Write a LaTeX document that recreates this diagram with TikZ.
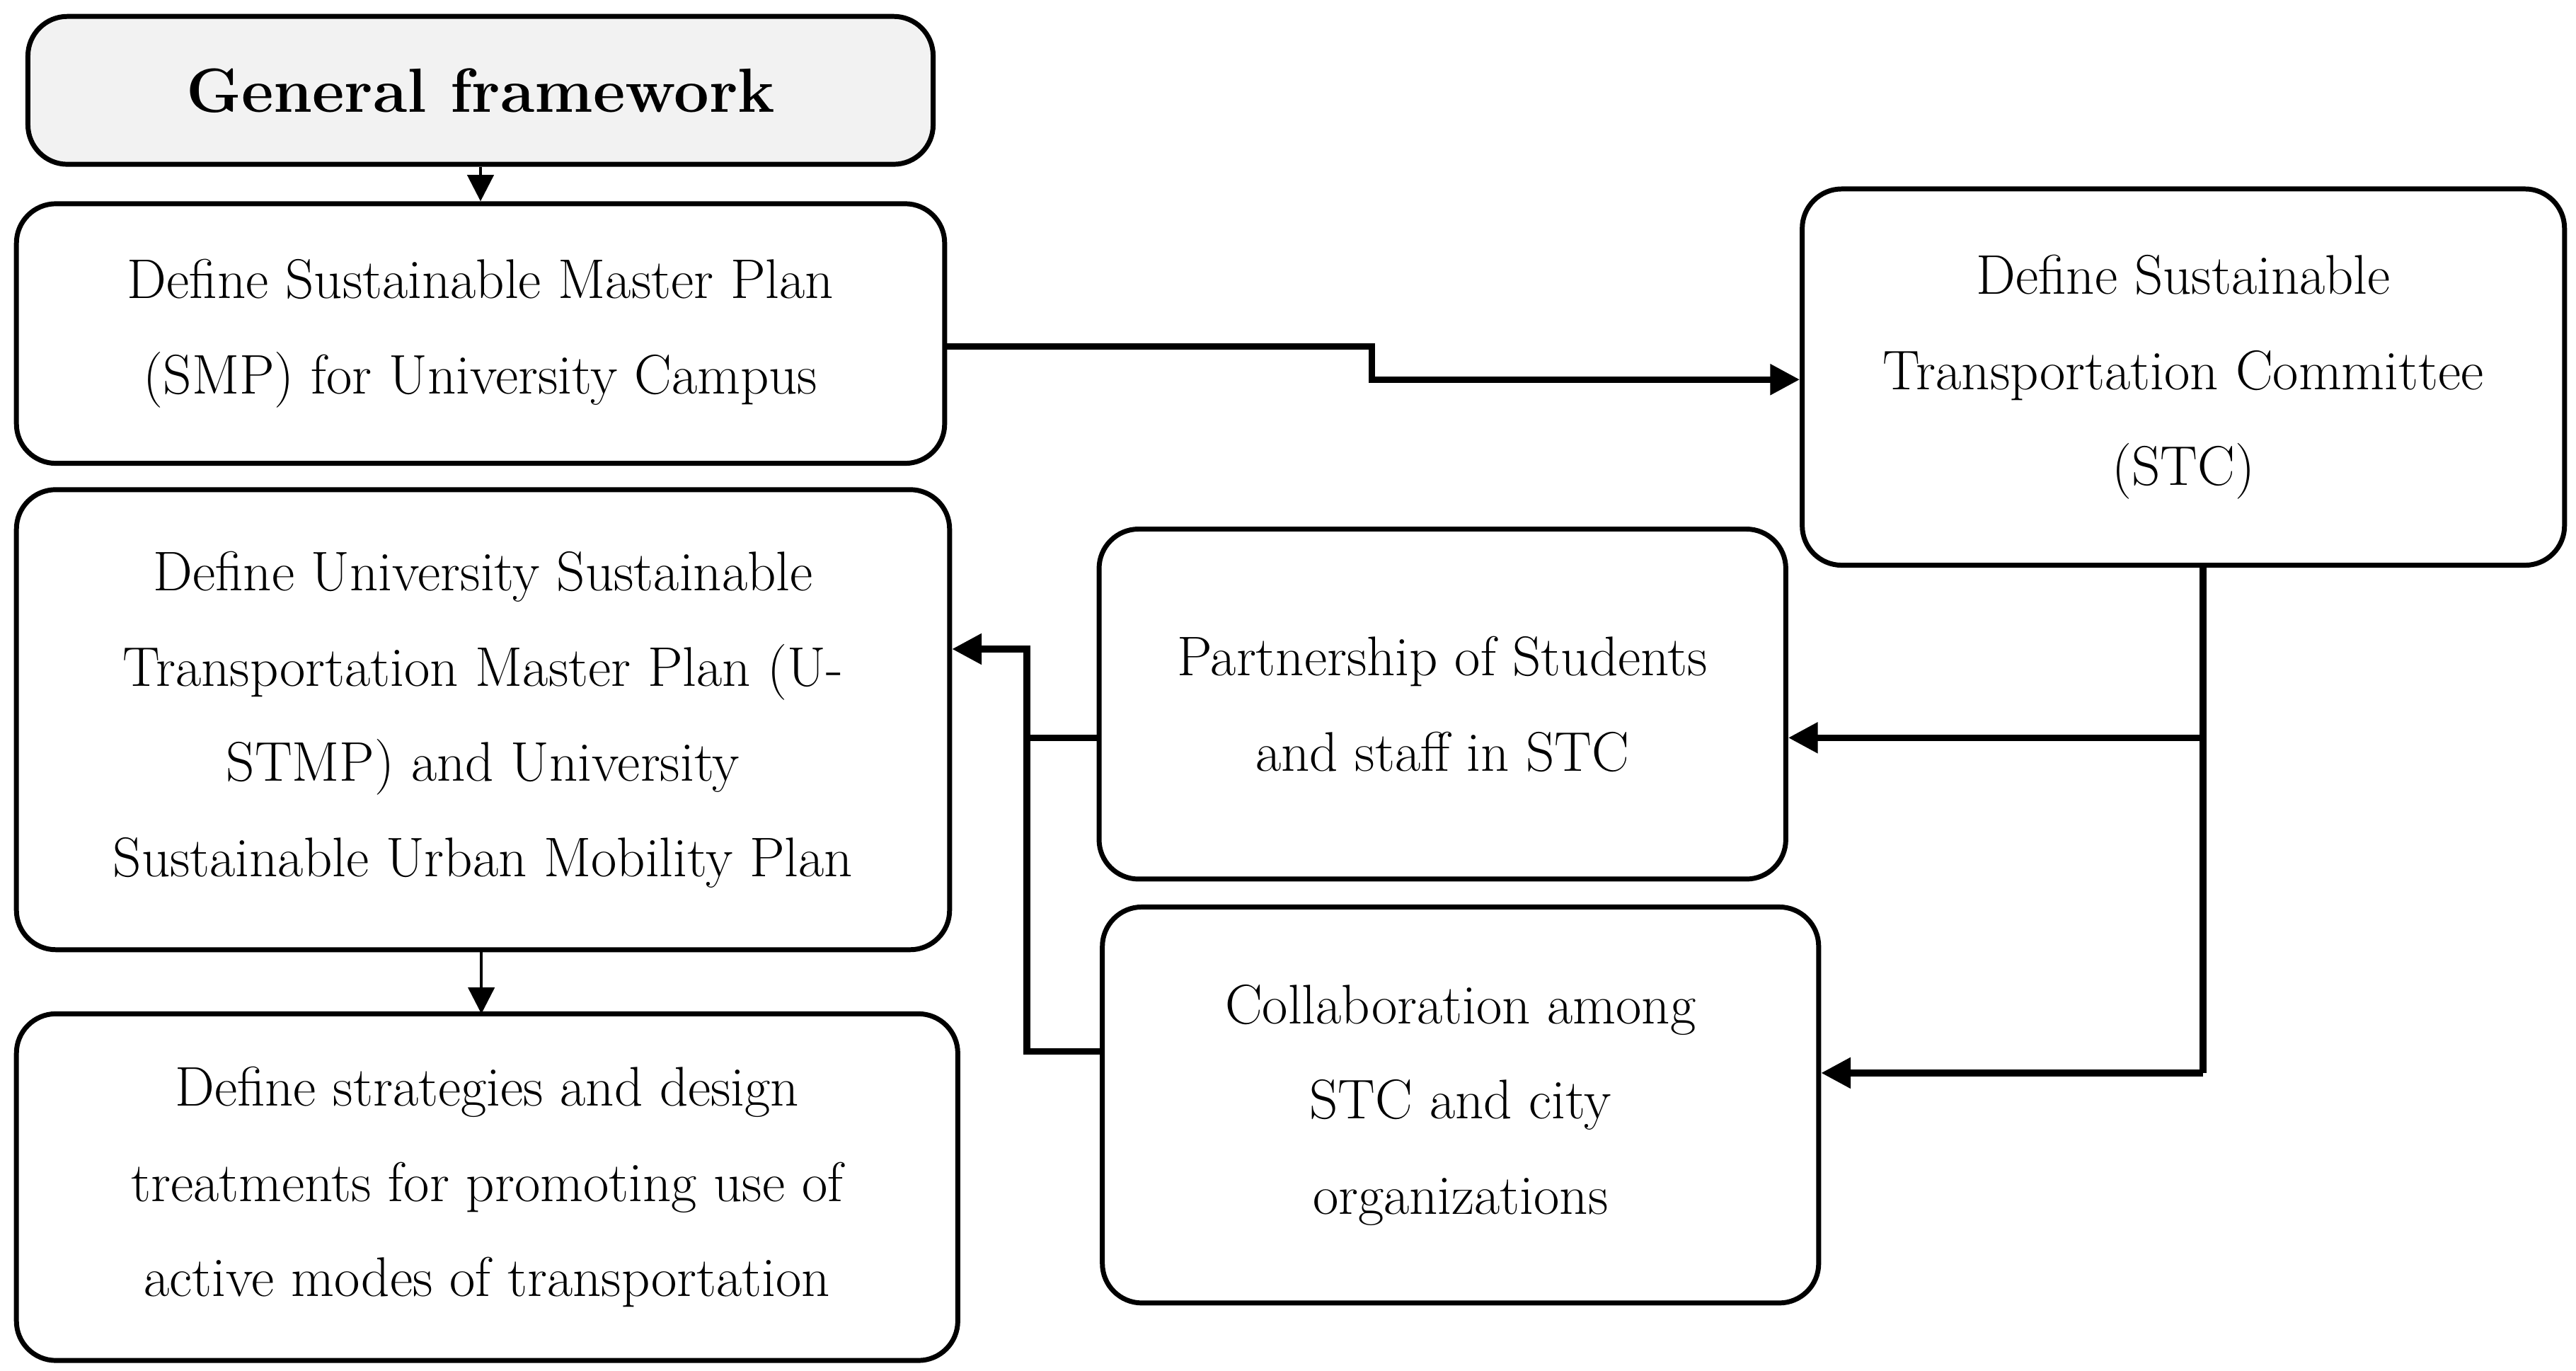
\documentclass[tikz,border=0pt]{standalone}
\usetikzlibrary{arrows.meta}
\begin{document}
\begin{tikzpicture}[x=0.5pt,y=-0.5pt,
 box/.style={draw,line width=1.5pt,rounded corners=12pt,align=center,font=\fontsize{17}{29}\selectfont,inner sep=0pt},
 conn/.style={line width=2pt,-{Triangle[length=9pt,width=9pt]}},
 thin/.style={line width=0.8pt,-{Triangle[length=8pt,width=8pt]}}]
\useasboundingbox (0,0) rectangle (1568,834);
\node[box,fill=black!5,minimum width=551*0.5pt,minimum height=90*0.5pt,font=\fontsize{19}{24}\selectfont\bfseries] (gf) at (292.5,55) {General framework};
\node[box,minimum width=565*0.5pt,minimum height=158*0.5pt] (smp) at (292.5,203) {Define Sustainable Master Plan\\(SMP) for University Campus};
\node[box,minimum width=464*0.5pt,minimum height=229*0.5pt] (stc) at (1329,229.5) {Define Sustainable\\Transportation Committee\\(STC)};
\node[box,minimum width=568*0.5pt,minimum height=280*0.5pt] (us) at (294,438) {Define University Sustainable\\Transportation Master Plan (U-\\STMP) and University\\Sustainable Urban Mobility Plan};
\node[box,minimum width=418*0.5pt,minimum height=213*0.5pt] (ps) at (878,428.5) {Partnership of Students\\and staff in STC};
\node[box,minimum width=436*0.5pt,minimum height=241*0.5pt] (co) at (889,672.5) {Collaboration among\\STC and city\\organizations};
\node[box,minimum width=573*0.5pt,minimum height=211*0.5pt] (sd) at (296.5,722.5) {Define strategies and design\\treatments for promoting use of\\active modes of transportation};
\coordinate (j1) at (1341,449);
\coordinate (j2) at (625,449);
\draw[thin] (gf.south) -- (smp.north);
\draw[thin] (293,578) -- (293,617);
\draw[conn] (575,211) -- (835,211) -- (835,231) -- (stc.west |- 0,231);
\draw[line width=2pt] (1341,344) -- (1341,653);
\draw[conn] (j1) -- (ps.east |- j1);
\draw[conn] (1341,653) -- (co.east |- 0,653);
\draw[conn] (ps.west |- j2) -- (j2) -- (625,395) -- (us.east |- 0,395);
\draw[line width=2pt] (co.west |- 0,640) -- (625,640) -- (j2);
\end{tikzpicture}
\end{document}
